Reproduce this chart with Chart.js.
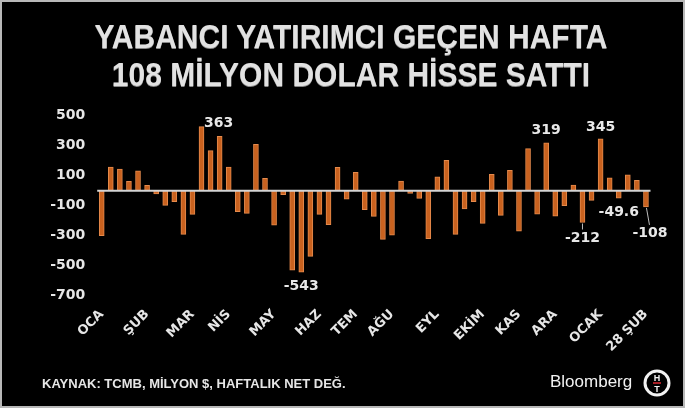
<!DOCTYPE html>
<html><head><meta charset="utf-8">
<script src="https://cdn.jsdelivr.net/npm/chart.js@4.4.0/dist/chart.umd.min.js"></script>
<style>
html,body{margin:0;padding:0;background:#000;}
#wrap{position:relative;width:685px;height:408px;background:#000;overflow:hidden;}
#c{position:absolute;left:0;top:0;}
.title{position:absolute;left:0;width:702px;text-align:center;font-family:"Liberation Sans",Arial,sans-serif;font-weight:bold;font-size:30px;line-height:30px;color:#e2e2e2;transform:scaleY(1.12);white-space:nowrap;text-shadow:0 1px 0 #888;}
#t1{top:22px;}
#t2{top:60px;}
#src{position:absolute;left:42px;top:377px;font-family:"Liberation Sans",Arial,sans-serif;font-weight:bold;font-size:13px;line-height:14px;color:#e6e6e6;white-space:nowrap;}
#bb{position:absolute;left:550px;top:372px;font-family:"Liberation Sans",Arial,sans-serif;font-size:17px;line-height:20px;color:#f2f2f2;white-space:nowrap;}
#logo{position:absolute;left:643px;top:369px;}
#frame{position:absolute;left:0;top:0;width:685px;height:408px;box-sizing:border-box;border:2px solid #b8b8b8;pointer-events:none;}
</style></head>
<body>
<div id="wrap">
<canvas id="c" width="685" height="408"></canvas>
<div class="title" id="t1">YABANCI YATIRIMCI GEÇEN HAFTA</div>
<div class="title" id="t2">108 MİLYON DOLAR HİSSE SATTI</div>
<div id="src">KAYNAK: TCMB, MİLYON $, HAFTALIK NET DEĞ.</div>
<div id="bb">Bloomberg</div>
<svg id="logo" width="28" height="28" viewBox="0 0 28 28">
  <circle cx="14" cy="14" r="12" fill="#000" stroke="#f2f2f2" stroke-width="3"/>
  <text x="14" y="12" text-anchor="middle" font-family="Liberation Sans" font-weight="bold" font-size="9" fill="#f2f2f2">H</text>
  <rect x="10" y="13.2" width="8" height="1.6" fill="#d0262e"/>
  <text x="14" y="23" text-anchor="middle" font-family="Liberation Sans" font-weight="bold" font-size="9" fill="#f2f2f2">T</text>
</svg>
<div id="frame"></div>
</div>
<script>
// weekly net flows, million $
const values = [-300,158,144,62,133,36,-22,-98,-73,-291,-158,427,267,363,158,-140,-151,309,82,-229,-27,-529,-543,-438,-158,-227,156,-56,122,-127,-171,-324,-296,64,-18,-51,-320,93,202,-291,-122,-73,-218,109,-164,136,-269,280,-156,319,-169,-100,38,-212,-64,345,85,-49.6,105,69,-108];
const tickNames = ['OCA','ŞUB','MAR','NİS','MAY','HAZ','TEM','AĞU','EYL','EKİM','KAS','ARA','OCAK','28 ŞUB'];
const tickWeeks = [0,5,10,14,19,24,28,32,37,42,46,50,55,60];
const yTicks = [-700,-500,-300,-100,100,300,500];
const labelledWeeks = [13,22,49,53,55,57,60];

const categories = values.map((_, i) => {
  const k = tickWeeks.indexOf(i);
  return k >= 0 ? tickNames[k] : '';
});

// label placement (offsets from bar end)
const labelPlace = {
  13: {dx: -1, dy: -13},
  22: {dx: 0, dy: 14},
  49: {dx: 0, dy: -12},
  53: {dx: 0, dy: 16, leader: [0, 1, 0, 7]},
  55: {dx: 0, dy: -12},
  57: {dx: 0, dy: 14},
  60: {dx: 4, dy: 26, leader: [0.5, 1, 3.5, 18]}
};

const overlay = {
  id: 'overlay',
  afterDatasetsDraw(chart) {
    const ctx = chart.ctx;
    const area = chart.chartArea;
    const y0 = chart.scales.y.getPixelForValue(0);
    ctx.save();
    ctx.strokeStyle = '#d4d4d4';
    ctx.lineWidth = 2;
    ctx.beginPath();
    ctx.moveTo(area.left, y0);
    ctx.lineTo(area.right, y0);
    ctx.stroke();
    const meta = chart.getDatasetMeta(0);
    ctx.font = 'bold 14px "DejaVu Sans"';
    ctx.textAlign = 'center';
    ctx.textBaseline = 'middle';
    ctx.fillStyle = '#e8e8e8';
    labelledWeeks.forEach(i => {
      const el = meta.data[i];
      const p = labelPlace[i];
      if (p.leader) {
        ctx.strokeStyle = '#bdbdbd';
        ctx.lineWidth = 1;
        ctx.beginPath();
        ctx.moveTo(el.x + p.leader[0], el.y + p.leader[1]);
        ctx.lineTo(el.x + p.leader[2], el.y + p.leader[3]);
        ctx.stroke();
      }
      ctx.fillText(String(values[i]), el.x + p.dx, el.y + p.dy);
    });
    ctx.restore();
  }
};

new Chart(document.getElementById('c'), {
  type: 'bar',
  data: {
    labels: categories,
    datasets: [{
      data: values,
      backgroundColor: '#c9621f',
      borderColor: '#e58a4c',
      borderWidth: 1,
      barThickness: 5
    }]
  },
  options: {
    responsive: false,
    animation: false,
    devicePixelRatio: 1,
    layout: {padding: {top: 115.7, left: 0, right: 34.5, bottom: 52.3}},
    plugins: {legend: {display: false}, tooltip: {enabled: false}},
    scales: {
      x: {
        grid: {display: false, drawTicks: false},
        border: {display: false},
        ticks: {
          autoSkip: false, maxRotation: 45, minRotation: 45, padding: 11,
          color: '#e6e6e6', font: {family: 'DejaVu Sans', weight: 'bold', size: 13}
        },
        afterFit(s) { s.height = 60; }
      },
      y: {
        min: -700, max: 500,
        grid: {display: false, drawTicks: false},
        border: {display: false},
        afterBuildTicks(s) { s.ticks = yTicks.map(v => ({value: v})); },
        ticks: {
          padding: 12, color: '#e6e6e6',
          font: {family: 'DejaVu Sans', weight: 'bold', size: 14}
        },
        afterFit(s) { s.width = 97.2; }
      }
    }
  },
  plugins: [overlay]
});
</script>
</body></html>
